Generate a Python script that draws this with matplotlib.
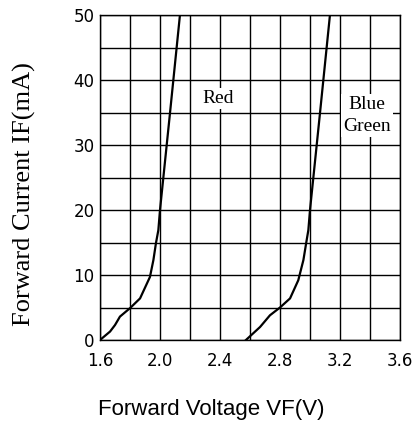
import matplotlib.pyplot as plt
import numpy as np

# forward voltage (V) vs forward current (mA)
red_vf = [1.600, 1.667, 1.700, 1.733, 1.800, 1.867, 1.933, 1.956, 1.973, 1.989, 2.000, 2.067, 2.133]
red_if = [0, 1.3, 2.3, 3.6, 4.9, 6.4, 9.7, 12.3, 14.9, 16.9, 20, 35, 50]

bg_vf = [2.573, 2.667, 2.733, 2.800, 2.867, 2.922, 2.956, 2.978, 2.989, 3.000, 3.067, 3.133]
bg_if = [0, 2.0, 3.8, 5.0, 6.4, 9.2, 12.3, 15.4, 16.9, 20, 35, 50]

xticks = [1.6, 2.0, 2.4, 2.8, 3.2, 3.6]
yticks = [0, 10, 20, 30, 40, 50]

fig = plt.figure(figsize=(4.17, 4.25), dpi=100)
ax = fig.add_axes([100/417, 1 - 340/425, 300/417, 325/425])

# grid: every 0.2 V and every 5 mA
for v in np.arange(1.6, 3.61, 0.2):
    ax.axvline(v, color='black', lw=1.0, zorder=1)
for i in np.arange(0, 51, 5):
    ax.axhline(i, color='black', lw=1.0, zorder=1)

ax.plot(red_vf, red_if, color='black', lw=1.6, zorder=3)
ax.plot(bg_vf, bg_if, color='black', lw=1.6, zorder=3)

ax.set_xlim(1.6, 3.6)
ax.set_ylim(0, 50)
ax.set_xticks(xticks)
ax.set_xticklabels(['%.1f' % x for x in xticks])
ax.set_yticks(yticks)
ax.tick_params(length=0, labelsize=12)
ax.tick_params(axis='x', pad=9)
ax.tick_params(axis='y', pad=4)
for s in ax.spines.values():
    s.set_linewidth(1.0)

box = dict(facecolor='white', edgecolor='none', pad=1.5)
ax.text(2.387, 37.2, 'Red', family='Liberation Serif', fontsize=14,
        ha='center', va='center', bbox=box, zorder=4)
ax.text(3.38, 34.5, 'Blue\nGreen', family='Liberation Serif', fontsize=14,
        ha='center', va='center', bbox=box, zorder=4, linespacing=1.35)

fig.text(24/417, 1 - 194/425, 'Forward Current IF(mA)', family='Liberation Serif',
         fontsize=19, rotation=90, ha='center', va='center')
fig.text(211/417, 1 - 410/425, 'Forward Voltage VF(V)', family='Liberation Sans',
         fontsize=16, ha='center', va='center')

fig.savefig('out.png', dpi=100)
